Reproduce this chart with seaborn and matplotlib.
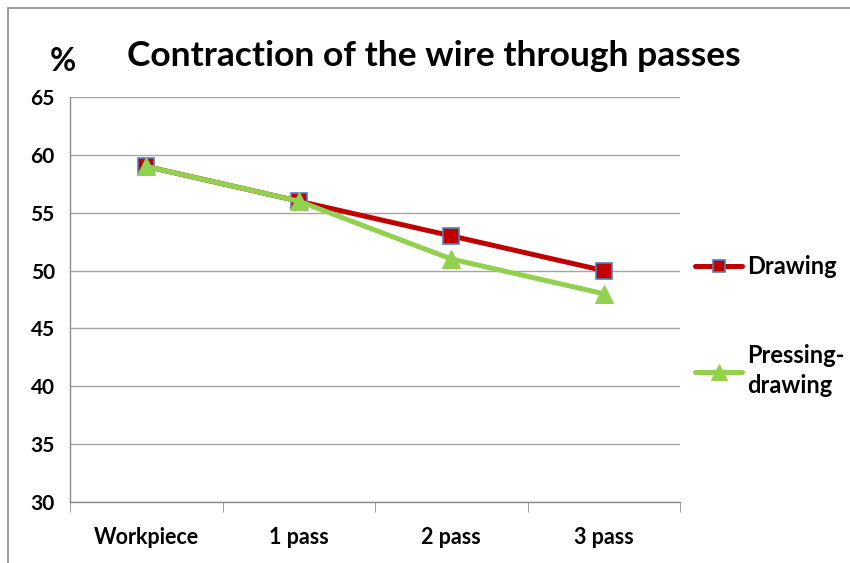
import numpy as np
import pandas as pd
import seaborn as sns
import matplotlib.pyplot as plt
from matplotlib.patches import Rectangle

# data
stages = ['Workpiece', '1 pass', '2 pass', '3 pass']
drawing = [59, 56, 53, 50]
pressing_drawing = [59, 56, 51, 48]

sns.set_style('white')
plt.rcParams['font.family'] = ['Lato', 'DejaVu Sans']
plt.rcParams['text.color'] = 'black'
plt.rcParams['xtick.color'] = 'black'
plt.rcParams['ytick.color'] = 'black'

df = pd.DataFrame({'x': np.arange(len(stages)), 'Drawing': drawing,
                   'Pressing-\ndrawing': pressing_drawing})

fig = plt.figure(figsize=(8.5, 5.63), dpi=100)
ax = fig.add_axes([0.0824, 0.1083, 0.7176, 0.7194])

# outer chart frame
fig.patches.append(Rectangle((0.0095, -0.05), 1.2, 1.036, transform=fig.transFigure,
                             fill=False, edgecolor='#8c8c8c', linewidth=1.2))

sns.lineplot(data=df, x='x', y='Drawing', ax=ax, color='#c00000', linewidth=3.6,
             marker='s', markersize=11, markeredgecolor='#4f81bd', markeredgewidth=1.2,
             label='Drawing')
sns.lineplot(data=df, x='x', y='Pressing-\ndrawing', ax=ax, color='#92d050', linewidth=3.6,
             marker='^', markersize=13, markeredgecolor='#92d050',
             label='Pressing-\ndrawing')

ax.set_xlim(-0.5, 3.5)
ax.set_ylim(30, 65)
ax.set_yticks(np.arange(30, 66, 5))
ax.set_xticks(np.arange(len(stages)))
ax.set_xticklabels(stages)
ax.set_xticks(np.arange(-0.5, 3.6, 1), minor=True)
ax.tick_params(axis='x', which='major', length=0, pad=18, labelsize=15.5)
ax.tick_params(axis='x', which='minor', length=7, color='#8c8c8c', direction='out')
ax.tick_params(axis='y', length=5, color='#8c8c8c', direction='out', labelsize=15, pad=6)
ax.xaxis.set_tick_params(bottom=True, which='minor')
for lab in ax.get_xticklabels() + ax.get_yticklabels():
    lab.set_fontweight('bold')

ax.grid(axis='y', color='#a6a6a6', linewidth=1)
ax.set_axisbelow(True)
for s in ['top', 'right']:
    ax.spines[s].set_visible(False)
for s in ['left', 'bottom']:
    ax.spines[s].set_color('#8c8c8c')
    ax.spines[s].set_linewidth(1)
ax.set_xlabel('')
ax.set_ylabel('')

fig.text(0.058, 0.89, '%', fontsize=23, fontweight='bold', ha='left', va='center')
fig.text(0.149, 0.9, 'Contraction of the wire through passes', fontsize=25.5,
         fontweight='bold', ha='left', va='center')

leg = ax.legend(loc='center left', bbox_to_anchor=(0.99, 0.435), frameon=False,
                fontsize=17, handlelength=2.0, labelspacing=2.8, handletextpad=0.2,
                markerscale=0.85)
for t in leg.get_texts():
    t.set_fontweight('bold')
    t.set_linespacing(1.35)

fig.savefig('out.png', dpi=100)
